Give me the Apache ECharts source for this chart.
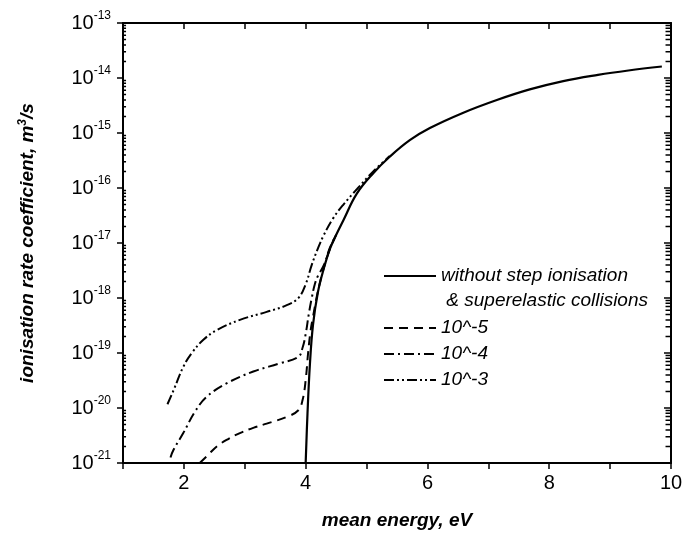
<!DOCTYPE html>
<html><head><meta charset="utf-8">
<script src="https://cdn.jsdelivr.net/npm/echarts@6/dist/echarts.min.js"></script>
<style>html,body{margin:0;padding:0;background:#fff}#c{width:686px;height:541px}#e{position:absolute;left:0;top:0;font:11px monospace;white-space:pre-wrap;color:red}</style>
</head><body><div id="c"></div><div id="e"></div>
<script>
window.onerror = function(m, s, l, c, err){ document.getElementById('e').textContent += 'ERR ' + m + '\n'; };
const FONT = '"Liberation Sans", Arial, sans-serif';
const xTickLabels = ['2', '4', '6', '8', '10'];
const yExponents = [-21, -20, -19, -18, -17, -16, -15, -14, -13];
const seriesNames = ['without step ionisation', '10^-5', '10^-4', '10^-3'];

// values in m^3/s
// without step ionisation & superelastic collisions
const solidX = [4.0, 4.03, 4.07, 4.12, 4.2, 4.3, 4.4, 4.5, 4.62, 4.84, 5.11, 5.38, 5.71, 6.04, 6.59, 7.14, 7.68, 8.23, 8.8, 9.3, 9.85];
const solidY = [1.0e-21, 7.9e-21, 6.3e-20, 3.2e-19, 1.26e-18, 3.5e-18, 7.9e-18, 1.4e-17, 2.6e-17, 7.9e-17, 1.86e-16, 3.7e-16, 7.4e-16, 1.23e-15, 2.34e-15, 3.98e-15, 6.2e-15, 8.8e-15, 1.14e-14, 1.37e-14, 1.62e-14];
// 10^-5
const d5X = [2.26, 2.4, 2.54, 2.72, 2.92, 3.15, 3.36, 3.69, 3.88, 3.95, 4.0, 4.04, 4.08, 4.12, 4.2, 4.3, 4.4, 4.5];
const d5Y = [1.0e-21, 1.41e-21, 2.0e-21, 2.7e-21, 3.5e-21, 4.4e-21, 5.2e-21, 6.9e-21, 9.1e-21, 1.41e-20, 3.2e-20, 1.0e-19, 2.5e-19, 4.5e-19, 1.3e-18, 3.6e-18, 7.9e-18, 1.4e-17];
// 10^-4
const d4X = [1.78, 1.83, 1.99, 2.18, 2.37, 2.70, 3.14, 3.58, 3.88, 3.95, 4.0, 4.05, 4.1, 4.15, 4.2, 4.3, 4.4, 4.5];
const d4Y = [1.26e-21, 1.74e-21, 3.5e-21, 8.5e-21, 1.58e-20, 2.8e-20, 4.6e-20, 6.5e-20, 8.5e-20, 1.26e-19, 2.2e-19, 5.0e-19, 1.0e-18, 1.78e-18, 2.5e-18, 4.0e-18, 8.3e-18, 1.4e-17];
// 10^-3
const d3X = [1.73, 1.83, 1.99, 2.13, 2.32, 2.54, 2.92, 3.36, 3.69, 3.88, 4.0, 4.1, 4.2, 4.3, 4.45, 4.62, 4.84, 5.11, 5.38];
const d3Y = [1.17e-20, 2.1e-20, 5.6e-20, 1.0e-19, 1.74e-19, 2.6e-19, 4.0e-19, 5.6e-19, 7.4e-19, 1.0e-18, 1.78e-18, 4.0e-18, 7.9e-18, 1.41e-17, 2.8e-17, 5.0e-17, 9.5e-17, 2.0e-16, 3.8e-16];

const minorMantissas = [2, 3, 4, 5, 6, 7, 8, 9];
// the log axis is plotted in units of 1e-21 m^3/s (ECharts' log scale cannot handle 1e-21 directly)
const UNIT_EXP = -21;
const toAxis = v => v * Math.pow(10, -UNIT_EXP);
function pairs(xs, ys) { return xs.map((x, i) => [x, toAxis(ys[i])]); }

// minor log ticks (2..9 x 10^n): short horizontal segments on the left and right frame edges
const minorLeft = [], minorRight = [];
for (let i = 0; i < yExponents.length - 1; i++) {
  for (const m of minorMantissas) {
    const v = m * Math.pow(10, yExponents[i] - UNIT_EXP);
    minorLeft.push([0.95, v], [1.05, v], [1.05, '-']);
    minorRight.push([9.91, v], [10, v], [10, '-']);
  }
}

const chart = echarts.init(document.getElementById('c'), null, { renderer: 'canvas' });

const lineCommon = { type: 'line', showSymbol: false, symbol: 'none', smooth: 0.4, z: 3, color: '#000' };
const axisFontY = {
  b: { fontSize: 20, fontFamily: FONT, color: '#000', lineHeight: 26 },
  s: { fontSize: 12, fontFamily: FONT, color: '#000', lineHeight: 12, verticalAlign: 'top' }
};
const yMin = toAxis(Math.pow(10, yExponents[0]));
const yMax = toAxis(Math.pow(10, yExponents[yExponents.length - 1]));
const tickLine = { type: 'line', showSymbol: false, symbol: 'none', connectNulls: false, clip: false, silent: true, z: 5,
  color: '#000', lineStyle: { color: '#000', width: 1.5 }, emphasis: { disabled: true } };

try {
chart.setOption({
  animation: false,
  backgroundColor: '#fff',
  grid: { left: 123, right: 15, top: 23, bottom: 78 },
  xAxis: [{
    type: 'value', min: 1, max: 10, interval: 1, position: 'bottom',
    axisLine: { lineStyle: { color: '#000', width: 2 } },
    axisTick: { inside: false, length: 6, lineStyle: { color: '#000', width: 1.5 } },
    axisLabel: {
      color: '#000', fontSize: 20, fontFamily: FONT, margin: 10,
      formatter: v => { const s = String(v); return xTickLabels.indexOf(s) >= 0 ? s : ''; }
    },
    splitLine: { show: false },
    name: 'mean energy, eV', nameLocation: 'middle', nameGap: 48,
    nameTextStyle: { fontSize: 19, fontWeight: 'bold', fontStyle: 'italic', fontFamily: FONT, color: '#000' }
  }, {
    type: 'value', min: 1, max: 10, interval: 1, position: 'top',
    axisLine: { lineStyle: { color: '#000', width: 2 } },
    axisTick: { inside: true, length: 6, lineStyle: { color: '#000', width: 1.5 } },
    axisLabel: { show: false }, splitLine: { show: false }
  }],
  yAxis: [{
    type: 'log', logBase: 10, min: yMin, max: yMax, splitNumber: 8, position: 'left',
    axisLine: { show: true, lineStyle: { color: '#000', width: 2 } },
    axisTick: { show: true, inside: false, length: 6, lineStyle: { color: '#000', width: 1.5 } },
    axisLabel: {
      margin: 12,
      formatter: v => '{b|10}{s|' + (Math.round(Math.log10(v)) + UNIT_EXP) + '}',
      rich: axisFontY
    },
    splitLine: { show: false },
    name: '{t|ionisation rate coefficient, m}{u|3}{t|/s}', nameLocation: 'middle', nameGap: 84,
    nameTextStyle: {
      rich: {
        t: { fontSize: 19, fontWeight: 'bold', fontStyle: 'italic', fontFamily: FONT, color: '#000', lineHeight: 22 },
        u: { fontSize: 12, fontWeight: 'bold', fontStyle: 'italic', fontFamily: FONT, color: '#000', lineHeight: 12, verticalAlign: 'top' }
      }
    }
  }, {
    type: 'log', logBase: 10, min: yMin, max: yMax, splitNumber: 8, position: 'right',
    axisLine: { show: true, lineStyle: { color: '#000', width: 2 } },
    axisTick: { show: true, inside: true, length: 7, lineStyle: { color: '#000', width: 1.5 } },
    axisLabel: { show: false }, splitLine: { show: false }
  }],
  legend: {
    orient: 'vertical', left: 378, top: 232, itemGap: 0, itemWidth: 52, itemHeight: 14,
    data: seriesNames,
    itemStyle: { opacity: 0, color: 'rgba(0,0,0,0)', borderWidth: 0 },
    formatter: n => n === seriesNames[0] ? '\n' + n + '\n' : n,
    textStyle: { fontSize: 19, fontStyle: 'italic', fontFamily: FONT, color: '#000', lineHeight: 26 }
  },
  graphic: [{
    type: 'text', right: 686 - 648, top: 291,
    style: { text: '& superelastic collisions', font: 'italic 19px "Liberation Sans", Arial, sans-serif', fill: '#000' }
  }],
  series: [
    Object.assign({}, lineCommon, { name: seriesNames[0], data: pairs(solidX, solidY), lineStyle: { color: '#000', width: 2.2, type: 'solid' } }),
    Object.assign({}, lineCommon, { name: seriesNames[1], data: pairs(d5X, d5Y), lineStyle: { color: '#000', width: 2, type: [9, 6] } }),
    Object.assign({}, lineCommon, { name: seriesNames[2], data: pairs(d4X, d4Y), lineStyle: { color: '#000', width: 2, type: [10, 4, 2, 4] } }),
    Object.assign({}, lineCommon, { name: seriesNames[3], data: pairs(d3X, d3Y), lineStyle: { color: '#000', width: 2, type: [10, 3, 2, 3, 2, 3] } }),
    Object.assign({}, tickLine, { name: 'minor-left', data: minorLeft }),
    Object.assign({}, tickLine, { name: 'minor-right', data: minorRight })
  ]
});
} catch (e) { document.getElementById('e').textContent += 'caught ' + e.message + '\n'; }
</script>
</body></html>
